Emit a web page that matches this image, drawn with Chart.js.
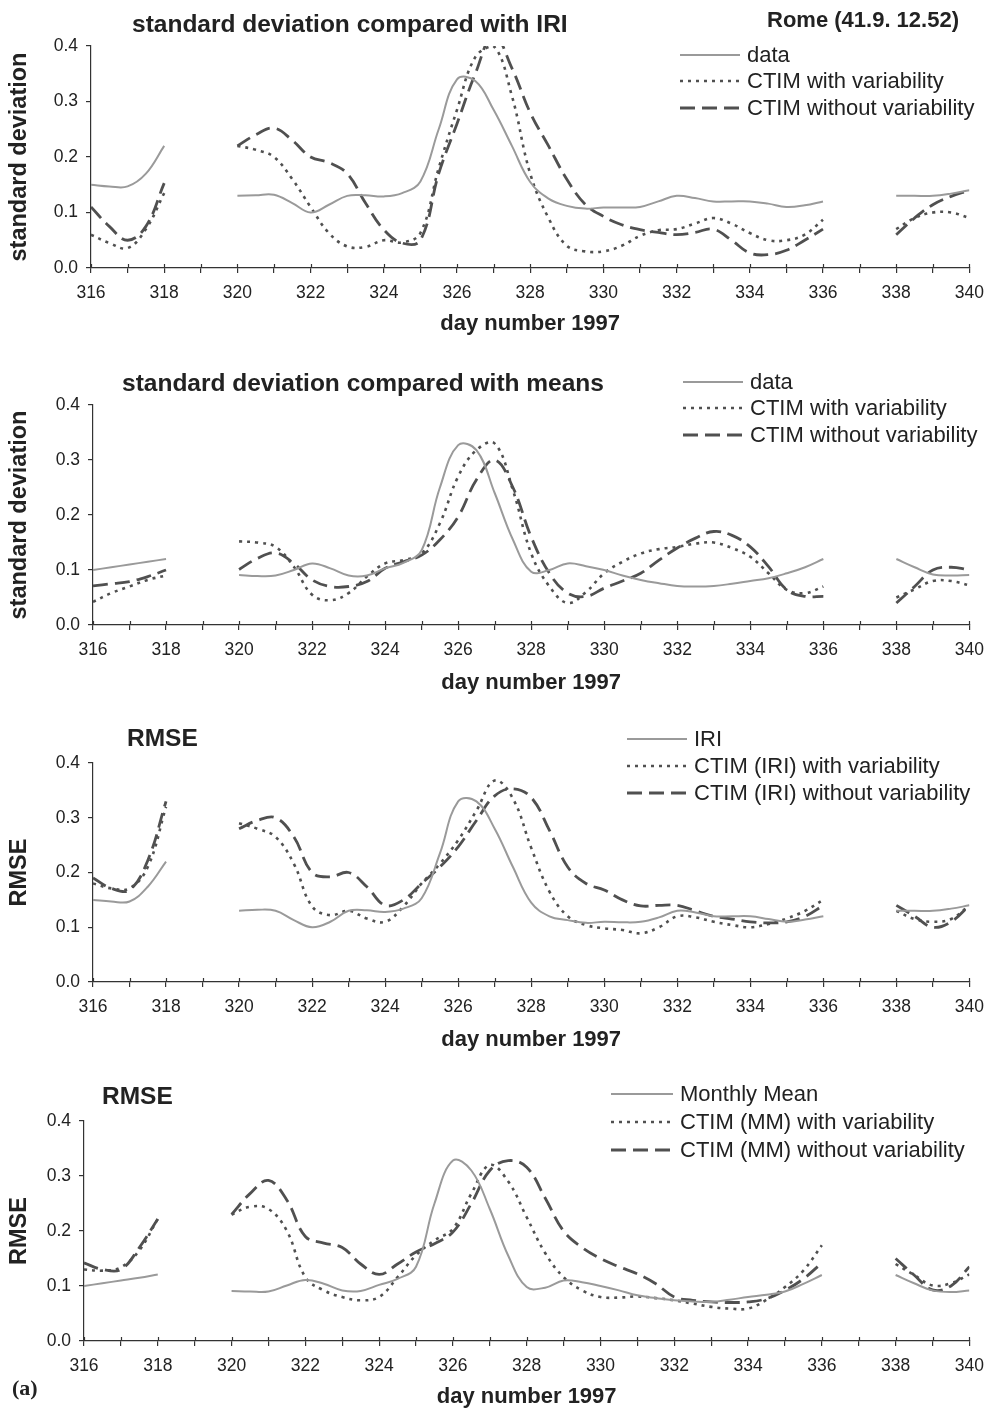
<!DOCTYPE html>
<html lang="en">
<head>
    <meta charset="UTF-8">
    <title>Rome (41.9, 12.52) - standard deviation and RMSE</title>
    <script src="https://cdn.jsdelivr.net/npm/chart.js"></script>
    <style>
        html, body {
            margin: 0;
            padding: 0;
            background: #fff;
            overflow: hidden;
        }
        #page {
            position: relative;
            width: 994px;
            height: 1411px;
            font-family: 'Liberation Sans', Arial, Helvetica, sans-serif;
            color: #222;
        }
        .panel {
            position: absolute;
            left: 0;
            width: 994px;
        }
        .panel canvas {
            display: block;
        }
        .label {
            position: absolute;
            white-space: nowrap;
            line-height: 1;
        }
        .title {
            font-weight: bold;
            font-size: 24.5px;
        }
        .legend-row {
            position: absolute;
            display: flex;
            align-items: center;
            height: 22px;
            font-size: 22px;
            line-height: 22px;
            white-space: nowrap;
        }
        .legend-row svg {
            margin-right: 7px;
        }
    </style>
</head>
<body>
<div id="page">
    <div class="panel" id="panel1"><canvas id="chart1"></canvas></div>
    <div class="panel" id="panel2"><canvas id="chart2"></canvas></div>
    <div class="panel" id="panel3"><canvas id="chart3"></canvas></div>
    <div class="panel" id="panel4"><canvas id="chart4"></canvas></div>

    <div class="label title" style="left:132px; top:12px;">standard deviation compared with IRI</div>
    <div class="label" style="left:767px; top:9px; font-weight:bold; font-size:22px;">Rome (41.9. 12.52)</div>
    <div class="label title" style="left:122px; top:371px;">standard deviation compared with means</div>
    <div class="label title" style="left:127px; top:726px;">RMSE</div>
    <div class="label title" style="left:102px; top:1084px;">RMSE</div>
    <div class="label" style="left:12px; top:1377px; font-family:'Liberation Serif', 'Times New Roman', serif; font-weight:bold; font-size:22px;">(a)</div>
</div>

<script>
    const N = null;

    // day of year 1997, half-day steps; gaps at 318.5-319.5 and 336.5-337.5
    const days = [316, 316.5, 317, 317.5, 318, 318.5, 319, 319.5,
        320, 320.5, 321, 321.5, 322, 322.5, 323, 323.5, 324, 324.5, 325, 325.5,
        326, 326.5, 327, 327.5, 328, 328.5, 329, 329.5, 330, 330.5, 331, 331.5,
        332, 332.5, 333, 333.5, 334, 334.5, 335, 335.5, 336, 336.5, 337, 337.5,
        338, 338.5, 339, 339.5, 340];

    const yTicks = [0, 0.1, 0.2, 0.3, 0.4];

    // panel 1: standard deviation compared with IRI
    const sdIriData = [0.15, 0.147, 0.147, 0.17, 0.22, N, N, N,
        0.13, 0.131, 0.132, 0.117, 0.10, 0.114, 0.13, 0.131, 0.129, 0.135, 0.156, 0.25,
        0.34, 0.337, 0.285, 0.22, 0.155, 0.125, 0.112, 0.107, 0.109, 0.109, 0.11, 0.12,
        0.13, 0.126, 0.12, 0.12, 0.12, 0.116, 0.11, 0.113, 0.12, N, N, N,
        0.13, 0.13, 0.13, 0.134, 0.14];
    const sdIriWith = [0.06, 0.045, 0.036, 0.07, 0.135, N, N, N,
        0.22, 0.213, 0.20, 0.16, 0.11, 0.063, 0.039, 0.038, 0.05, 0.046, 0.063, 0.18,
        0.285, 0.38, 0.40, 0.31, 0.17, 0.09, 0.04, 0.03, 0.03, 0.04, 0.058, 0.068,
        0.07, 0.08, 0.09, 0.08, 0.063, 0.05, 0.05, 0.06, 0.087, N, N, N,
        0.07, 0.09, 0.10, 0.10, 0.09];
    const sdIriWithout = [0.11, 0.075, 0.05, 0.075, 0.153, N, N, N,
        0.22, 0.24, 0.252, 0.23, 0.20, 0.19, 0.17, 0.117, 0.069, 0.045, 0.05, 0.17,
        0.26, 0.35, 0.42, 0.36, 0.28, 0.22, 0.16, 0.115, 0.093, 0.078, 0.069, 0.064,
        0.06, 0.064, 0.07, 0.05, 0.027, 0.024, 0.032, 0.05, 0.07, N, N, N,
        0.06, 0.09, 0.114, 0.129, 0.14];

    // panel 2: standard deviation compared with means
    const sdMeansData = [0.10, 0.105, 0.11, 0.115, 0.12, N, N, N,
        0.091, 0.089, 0.09, 0.10, 0.112, 0.103, 0.09, 0.09, 0.103, 0.113, 0.136, 0.25,
        0.327, 0.318, 0.24, 0.155, 0.097, 0.10, 0.112, 0.107, 0.10, 0.09, 0.082, 0.076,
        0.071, 0.07, 0.071, 0.075, 0.08, 0.085, 0.094, 0.105, 0.12, N, N, N,
        0.12, 0.105, 0.092, 0.09, 0.091];
    const sdMeansWith = [0.042, 0.058, 0.07, 0.082, 0.09, N, N, N,
        0.152, 0.15, 0.142, 0.106, 0.055, 0.045, 0.058, 0.088, 0.112, 0.118, 0.13, 0.185,
        0.27, 0.318, 0.33, 0.245, 0.13, 0.07, 0.04, 0.06, 0.094, 0.115, 0.13, 0.138,
        0.142, 0.148, 0.15, 0.14, 0.124, 0.094, 0.064, 0.058, 0.07, N, N, N,
        0.05, 0.065, 0.08, 0.08, 0.072];
    const sdMeansWithout = [0.071, 0.075, 0.079, 0.088, 0.10, N, N, N,
        0.101, 0.121, 0.131, 0.112, 0.082, 0.07, 0.07, 0.079, 0.103, 0.115, 0.127, 0.155,
        0.197, 0.264, 0.30, 0.25, 0.16, 0.094, 0.058, 0.052, 0.067, 0.08, 0.094, 0.118,
        0.14, 0.158, 0.17, 0.163, 0.142, 0.106, 0.064, 0.052, 0.052, N, N, N,
        0.04, 0.07, 0.10, 0.105, 0.10];

    // panel 3: RMSE against IRI
    const rmseIri = [0.15, 0.147, 0.147, 0.174, 0.22, N, N, N,
        0.13, 0.132, 0.13, 0.113, 0.10, 0.11, 0.13, 0.131, 0.128, 0.134, 0.153, 0.235,
        0.33, 0.33, 0.28, 0.21, 0.145, 0.12, 0.113, 0.108, 0.11, 0.109, 0.11, 0.118,
        0.13, 0.127, 0.12, 0.12, 0.12, 0.115, 0.11, 0.114, 0.12, N, N, N,
        0.13, 0.13, 0.13, 0.134, 0.14];
    const rmseIriWith = [0.18, 0.171, 0.171, 0.21, 0.32, N, N, N,
        0.29, 0.28, 0.265, 0.216, 0.138, 0.122, 0.13, 0.116, 0.11, 0.138, 0.18, 0.216,
        0.259, 0.313, 0.368, 0.335, 0.245, 0.165, 0.12, 0.104, 0.098, 0.095, 0.089, 0.10,
        0.12, 0.118, 0.11, 0.104, 0.10, 0.106, 0.116, 0.13, 0.15, N, N, N,
        0.13, 0.115, 0.11, 0.115, 0.14];
    const rmseIriWithout = [0.19, 0.171, 0.168, 0.222, 0.33, N, N, N,
        0.28, 0.295, 0.30, 0.265, 0.20, 0.192, 0.20, 0.174, 0.14, 0.15, 0.18, 0.21,
        0.247, 0.295, 0.34, 0.353, 0.337, 0.277, 0.21, 0.18, 0.168, 0.15, 0.139, 0.14,
        0.14, 0.13, 0.12, 0.115, 0.11, 0.108, 0.11, 0.12, 0.14, N, N, N,
        0.14, 0.12, 0.10, 0.11, 0.14];

    // panel 4: RMSE against monthly mean
    const rmseMm = [0.10, 0.105, 0.11, 0.115, 0.121, N, N, N,
        0.091, 0.09, 0.09, 0.101, 0.111, 0.104, 0.092, 0.091, 0.102, 0.113, 0.135, 0.25,
        0.328, 0.31, 0.24, 0.155, 0.098, 0.097, 0.11, 0.107, 0.10, 0.092, 0.083, 0.078,
        0.074, 0.072, 0.071, 0.075, 0.08, 0.084, 0.09, 0.104, 0.12, N, N, N,
        0.12, 0.105, 0.092, 0.089, 0.092];
    const rmseMmWith = [0.13, 0.128, 0.134, 0.165, 0.222, N, N, N,
        0.23, 0.244, 0.24, 0.20, 0.116, 0.092, 0.08, 0.074, 0.08, 0.116, 0.156, 0.183,
        0.204, 0.268, 0.32, 0.29, 0.225, 0.16, 0.116, 0.092, 0.08, 0.079, 0.081, 0.078,
        0.074, 0.068, 0.062, 0.059, 0.059, 0.075, 0.098, 0.128, 0.174, N, N, N,
        0.14, 0.12, 0.101, 0.105, 0.121];
    const rmseMmWithout = [0.142, 0.13, 0.13, 0.17, 0.222, N, N, N,
        0.23, 0.268, 0.292, 0.256, 0.19, 0.178, 0.17, 0.14, 0.121, 0.14, 0.162, 0.177,
        0.198, 0.25, 0.31, 0.328, 0.316, 0.26, 0.20, 0.17, 0.15, 0.135, 0.122, 0.104,
        0.08, 0.074, 0.071, 0.07, 0.071, 0.077, 0.092, 0.113, 0.142, N, N, N,
        0.15, 0.12, 0.093, 0.10, 0.135];

    // line looks
    const styles = {
        solid:  { color: '#9a9a9a', width: 2,   dash: [] },
        dotted: { color: '#505050', width: 2.6, dash: [3, 5] },
        dashed: { color: '#505050', width: 2.8, dash: [15, 7] }
    };
    const axisColor = '#333';

    // page layout of each panel (absolute pixel positions)
    const panels = [
        { canvas: 'chart1', div: 'panel1', top: 0, height: 348,
          area: { left: 91, top: 46, bottom: 268 }, xTitleY: 324, yTitle: 'standard deviation',
          legend: { x: 680, lineLen: 60, rows: [55, 81, 108] },
          series: [['data', sdIriData, 'solid'], ['CTIM with variability', sdIriWith, 'dotted'], ['CTIM without variability', sdIriWithout, 'dashed']] },
        { canvas: 'chart2', div: 'panel2', top: 348, height: 357,
          area: { left: 93, top: 405, bottom: 625 }, xTitleY: 683, yTitle: 'standard deviation',
          legend: { x: 683, lineLen: 60, rows: [382, 408, 435] },
          series: [['data', sdMeansData, 'solid'], ['CTIM with variability', sdMeansWith, 'dotted'], ['CTIM without variability', sdMeansWithout, 'dashed']] },
        { canvas: 'chart3', div: 'panel3', top: 705, height: 357,
          area: { left: 93, top: 763, bottom: 982 }, xTitleY: 1040, yTitle: 'RMSE',
          legend: { x: 627, lineLen: 60, rows: [739, 766, 793] },
          series: [['IRI', rmseIri, 'solid'], ['CTIM (IRI) with variability', rmseIriWith, 'dotted'], ['CTIM (IRI) without variability', rmseIriWithout, 'dashed']] },
        { canvas: 'chart4', div: 'panel4', top: 1062, height: 349,
          area: { left: 84, top: 1121, bottom: 1341 }, xTitleY: 1397, yTitle: 'RMSE',
          legend: { x: 611, lineLen: 62, rows: [1094, 1122, 1150] },
          series: [['Monthly Mean', rmseMm, 'solid'], ['CTIM (MM) with variability', rmseMmWith, 'dotted'], ['CTIM (MM) without variability', rmseMmWithout, 'dashed']] }
    ];
    const areaRight = 978;
    const W = 994;

    // x tick marks in the figure cross the axis line: draw the inner half
    const crossTicks = {
        id: 'crossTicks',
        afterDraw(chart) {
            const { ctx, chartArea, scales } = chart;
            const x = scales.x;
            ctx.save();
            ctx.strokeStyle = axisColor;
            ctx.lineWidth = 1.2;
            x.ticks.forEach(t => {
                const px = Math.round(x.getPixelForValue(t.value)) + 0.5;
                ctx.beginPath();
                ctx.moveTo(px, chartArea.bottom);
                ctx.lineTo(px, chartArea.bottom - 4);
                ctx.stroke();
            });
            ctx.restore();
        }
    };

    const xTitleFont = { family: "'Liberation Sans', Arial, sans-serif", size: 22, weight: 'bold', lineHeight: 1.2 };
    const yTitleFont = { family: "'Liberation Sans', Arial, sans-serif", size: 23.5, weight: 'bold', lineHeight: 1.2 };
    const tickFont = { family: "'Liberation Sans', Arial, sans-serif", size: 17.5, lineHeight: 1.2 };

    function makeLegend(p) {
        const page = document.getElementById('page');
        p.series.forEach((s, i) => {
            const st = styles[s[2]];
            const row = document.createElement('div');
            row.className = 'legend-row';
            row.style.left = p.legend.x + 'px';
            row.style.top = (p.legend.rows[i] - 11) + 'px';
            const svgNS = 'http://www.w3.org/2000/svg';
            const svg = document.createElementNS(svgNS, 'svg');
            svg.setAttribute('width', p.legend.lineLen);
            svg.setAttribute('height', 8);
            const line = document.createElementNS(svgNS, 'line');
            line.setAttribute('x1', 0);
            line.setAttribute('x2', p.legend.lineLen);
            line.setAttribute('y1', 4);
            line.setAttribute('y2', 4);
            line.setAttribute('stroke', st.color);
            line.setAttribute('stroke-width', st.width);
            if (st.dash.length) line.setAttribute('stroke-dasharray', st.dash.join(' '));
            svg.appendChild(line);
            const text = document.createElement('span');
            text.textContent = s[0];
            row.appendChild(svg);
            row.appendChild(text);
            page.appendChild(row);
        });
    }

    panels.forEach(p => {
        const div = document.getElementById(p.div);
        div.style.top = p.top + 'px';
        div.style.height = p.height + 'px';
        const canvas = document.getElementById(p.canvas);
        canvas.width = W;
        canvas.height = p.height;

        const xScaleHeight = p.top + p.height - p.area.bottom;
        const xTitlePad = (p.top + p.height - p.xTitleY) - xTitleFont.size * xTitleFont.lineHeight / 2;
        const yTitlePad = 20 - yTitleFont.size * yTitleFont.lineHeight / 2;

        const datasets = p.series.map(s => {
            const st = styles[s[2]];
            return {
                label: s[0],
                data: days.map((d, i) => ({ x: d, y: s[1][i] })),
                borderColor: st.color,
                borderWidth: st.width,
                borderDash: st.dash,
                pointRadius: 0,
                pointHoverRadius: 0,
                fill: false,
                tension: 0.4,
                spanGaps: false
            };
        });

        new Chart(canvas, {
            type: 'line',
            data: { datasets: datasets },
            plugins: [crossTicks],
            options: {
                responsive: false,
                animation: false,
                events: [],
                layout: { padding: { top: p.area.top - p.top, right: W - areaRight, left: 0, bottom: 0 } },
                plugins: {
                    legend: { display: false },
                    tooltip: { enabled: false }
                },
                scales: {
                    x: {
                        type: 'linear',
                        min: 316,
                        max: 340,
                        afterFit(scale) { scale.height = xScaleHeight; },
                        border: { display: true, color: axisColor, width: 1.2 },
                        grid: { display: true, drawOnChartArea: false, drawTicks: true, tickLength: 5, color: axisColor, lineWidth: 1.2 },
                        ticks: {
                            stepSize: 1,
                            autoSkip: false,
                            maxRotation: 0,
                            padding: 10,
                            color: '#222',
                            font: tickFont,
                            callback: v => (v % 2 === 0 ? String(v) : '')
                        },
                        title: {
                            display: true,
                            text: 'day number 1997',
                            color: '#222',
                            font: xTitleFont,
                            padding: { top: 0, bottom: xTitlePad }
                        }
                    },
                    y: {
                        min: 0,
                        max: 0.4,
                        afterFit(scale) { scale.width = p.area.left; },
                        afterBuildTicks(scale) { scale.ticks = yTicks.map(v => ({ value: v })); },
                        border: { display: true, color: axisColor, width: 1.2 },
                        grid: { display: true, drawOnChartArea: false, drawTicks: true, tickLength: 5, color: axisColor, lineWidth: 1.2 },
                        ticks: {
                            padding: 8,
                            color: '#222',
                            font: tickFont,
                            callback: v => Number(v).toFixed(1)
                        },
                        title: {
                            display: true,
                            text: p.yTitle,
                            color: '#222',
                            font: yTitleFont,
                            padding: { top: yTitlePad, bottom: 0 }
                        }
                    }
                }
            }
        });

        makeLegend(p);
    });
</script>
</body>
</html>
